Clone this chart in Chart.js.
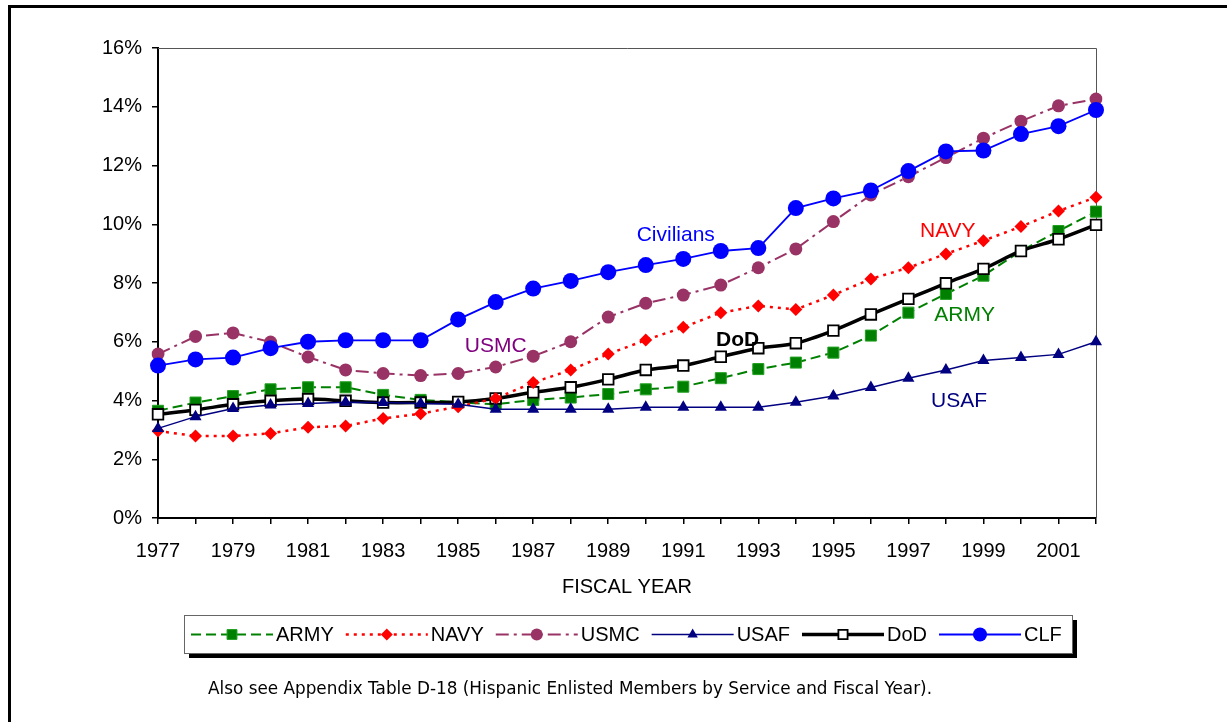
<!DOCTYPE html>
<html>
<head>
<meta charset="utf-8">
<script src="https://cdn.jsdelivr.net/npm/chart.js@4.4.1/dist/chart.umd.min.js"></script>
<style>
  html, body { margin: 0; padding: 0; background: #fff; }
  #wrap { position: relative; width: 1227px; height: 722px; }
</style>
</head>
<body>
<div id="wrap"><canvas id="chart" width="1227" height="722"></canvas></div>
<script>
// Hispanic enlisted members by service, FY1977-2002 (percent)
var years = ['1977', '1978', '1979', '1980', '1981', '1982', '1983', '1984', '1985', '1986', '1987', '1988', '1989',
             '1990', '1991', '1992', '1993', '1994', '1995', '1996', '1997', '1998', '1999', '2000', '2001', '2002'];
var army = [3.65, 3.93, 4.15, 4.38, 4.45, 4.45, 4.19, 4.02, 3.94, 3.87, 4.02, 4.10, 4.22,
            4.38, 4.47, 4.76, 5.07, 5.29, 5.63, 6.21, 6.99, 7.63, 8.25, 9.09, 9.77, 10.43];
var navy = [2.96, 2.79, 2.79, 2.88, 3.09, 3.13, 3.39, 3.55, 3.79, 4.07, 4.61, 5.04, 5.58,
            6.06, 6.49, 6.99, 7.22, 7.10, 7.59, 8.14, 8.52, 8.99, 9.44, 9.92, 10.45, 10.92];
var usmc = [5.58, 6.18, 6.30, 5.99, 5.48, 5.04, 4.92, 4.85, 4.92, 5.14, 5.51, 6.00, 6.84,
            7.31, 7.59, 7.93, 8.52, 9.16, 10.09, 11.00, 11.62, 12.27, 12.93, 13.51, 14.03, 14.26];
var usaf = [3.05, 3.45, 3.73, 3.85, 3.90, 3.94, 3.93, 3.90, 3.87, 3.70, 3.70, 3.70, 3.70,
            3.77, 3.77, 3.77, 3.77, 3.94, 4.15, 4.44, 4.76, 5.04, 5.36, 5.46, 5.57, 6.00];
var dod  = [3.53, 3.68, 3.87, 3.99, 4.05, 3.99, 3.93, 3.93, 3.95, 4.07, 4.28, 4.45, 4.72,
            5.04, 5.19, 5.49, 5.78, 5.95, 6.38, 6.93, 7.46, 7.99, 8.48, 9.09, 9.49, 9.98];
var clf  = [5.19, 5.40, 5.46, 5.78, 6.00, 6.05, 6.05, 6.05, 6.76, 7.35, 7.81, 8.07, 8.37,
            8.61, 8.82, 9.09, 9.19, 10.55, 10.88, 11.15, 11.81, 12.48, 12.51, 13.07, 13.34, 13.89];
var yTicks = [0, 2, 4, 6, 8, 10, 12, 14, 16];

// in-chart series labels, placed in data coordinates
var seriesLabels = ['Civilians', 'NAVY', 'USMC', 'DoD', 'ARMY', 'USAF'];
var seriesLabelYears = [13.8, 21.05, 9.0, 15.45, 21.5, 21.35];
var seriesLabelValues = [9.62, 9.75, 5.86, 6.06, 6.91, 3.96];

var FONT = "'Liberation Sans', Arial, sans-serif";
var labelColors = ['#0000FF', '#FF0000', '#800080', '#000000', '#008000', '#000080'];

function marker(ctx, style, x, y, r, fill, stroke, lw) {
  ctx.save();
  ctx.beginPath();
  if (style === 'rect') {
    var s = r * Math.SQRT1_2;
    ctx.rect(x - s, y - s, 2 * s, 2 * s);
  } else if (style === 'rectRot') {
    ctx.moveTo(x, y - r); ctx.lineTo(x + r, y); ctx.lineTo(x, y + r); ctx.lineTo(x - r, y);
    ctx.closePath();
  } else if (style === 'triangle') {
    ctx.moveTo(x, y - r);
    ctx.lineTo(x + r * 0.866, y + r * 0.5);
    ctx.lineTo(x - r * 0.866, y + r * 0.5);
    ctx.closePath();
  } else {
    ctx.arc(x, y, r, 0, Math.PI * 2);
  }
  ctx.fillStyle = fill;
  ctx.fill();
  if (lw) { ctx.lineWidth = lw; ctx.strokeStyle = stroke; ctx.stroke(); }
  ctx.restore();
}

var framePlugin = {
  id: 'frame',
  beforeDraw: function (chart) {
    var ctx = chart.ctx;
    ctx.save();
    ctx.fillStyle = '#fff';
    ctx.fillRect(0, 0, chart.width, chart.height);
    ctx.fillStyle = '#000';
    ctx.fillRect(8, 5, 3, chart.height - 5);
    ctx.fillRect(8, 5, chart.width - 8, 3);
    ctx.restore();
  },
  beforeDatasetsDraw: function (chart) {
    var a = chart.chartArea, ctx = chart.ctx;
    ctx.save();
    ctx.strokeStyle = '#555';
    ctx.lineWidth = 1;
    ctx.beginPath();
    ctx.moveTo(a.left, a.top + 0.5);
    ctx.lineTo(a.right + 0.5, a.top + 0.5);
    ctx.lineTo(a.right + 0.5, a.bottom);
    ctx.stroke();
    ctx.restore();
  }
};

var labelPlugin = {
  id: 'seriesLabels',
  afterDatasetsDraw: function (chart) {
    var ctx = chart.ctx, xs = chart.scales.x, ys = chart.scales.y;
    ctx.save();
    ctx.textAlign = 'center';
    ctx.textBaseline = 'middle';
    for (var i = 0; i < seriesLabels.length; i++) {
      ctx.font = (seriesLabels[i] === 'DoD' ? 'bold ' : '') + '21px ' + FONT;
      ctx.fillStyle = labelColors[i];
      ctx.fillText(seriesLabels[i], xs.getPixelForValue(seriesLabelYears[i]), ys.getPixelForValue(seriesLabelValues[i]));
    }
    ctx.restore();
  }
};

var legendPlugin = {
  id: 'boxLegend',
  afterDraw: function (chart) {
    var ctx = chart.ctx;
    var box = { left: 184, top: 615, right: 1072, bottom: 653 };
    ctx.save();
    ctx.fillStyle = '#000';
    ctx.fillRect(box.left + 5, box.bottom, box.right - box.left, 5);
    ctx.fillRect(box.right, box.top + 5, 5, box.bottom - box.top);
    ctx.fillStyle = '#fff';
    ctx.fillRect(box.left, box.top, box.right - box.left, box.bottom - box.top);
    ctx.strokeStyle = '#666';
    ctx.lineWidth = 1;
    ctx.strokeRect(box.left + 0.5, box.top + 0.5, box.right - box.left, box.bottom - box.top);

    var cy = (box.top + box.bottom) / 2 + 0.5;
    var x = box.left + 7;
    ctx.font = '20px ' + FONT;
    ctx.textBaseline = 'middle';
    chart.data.datasets.forEach(function (ds) {
      ctx.save();
      ctx.strokeStyle = ds.borderColor;
      ctx.lineWidth = ds.borderWidth;
      ctx.setLineDash(ds.borderDash || []);
      ctx.beginPath();
      ctx.moveTo(x, cy);
      ctx.lineTo(x + 82, cy);
      ctx.stroke();
      ctx.restore();
      marker(ctx, ds.pointStyle, x + 41, cy, ds.legendRadius, ds.pointBackgroundColor, ds.pointBorderColor, ds.pointBorderWidth);
      ctx.fillStyle = '#000';
      ctx.textAlign = 'left';
      ctx.fillText(ds.label, x + 85, cy + 1);
      x += 85 + ctx.measureText(ds.label).width + 12;
    });

    // footnote
    var note = 'Also see Appendix Table D-18 (Hispanic Enlisted Members by Service and Fiscal Year).';
    ctx.font = "17px Tahoma, 'DejaVu Sans', sans-serif";
    var w = ctx.measureText(note).width;
    ctx.translate(208, 690);
    ctx.scale(724 / w, 1);
    ctx.fillStyle = '#000';
    ctx.textAlign = 'left';
    ctx.fillText(note, 0, 0);
    ctx.restore();
  }
};

var ctx = document.getElementById('chart').getContext('2d');
new Chart(ctx, {
  type: 'line',
  data: {
    labels: years,
    datasets: [
      {
        label: 'ARMY', data: army, order: 6,
        borderColor: '#008000', borderWidth: 2, borderDash: [10, 5],
        pointStyle: 'rect', pointRadius: 7.8, pointBackgroundColor: '#008000',
        pointBorderColor: '#22a022', pointBorderWidth: 1, legendRadius: 7
      },
      {
        label: 'NAVY', data: navy, order: 3,
        borderColor: '#FF0000', borderWidth: 2.5, borderDash: [3, 5],
        pointStyle: 'rectRot', pointRadius: 6.5, pointBackgroundColor: '#FF0000',
        pointBorderColor: '#FF0000', pointBorderWidth: 0, legendRadius: 6
      },
      {
        label: 'USMC', data: usmc, order: 4,
        borderColor: '#993366', borderWidth: 2, borderDash: [13, 5, 3, 5],
        pointStyle: 'circle', pointRadius: 6.5, pointBackgroundColor: '#993366',
        pointBorderColor: '#993366', pointBorderWidth: 0, legendRadius: 6
      },
      {
        label: 'USAF', data: usaf, order: 2,
        borderColor: '#000080', borderWidth: 1.5,
        pointStyle: 'triangle', pointRadius: 7, pointBackgroundColor: '#000080',
        pointBorderColor: '#000080', pointBorderWidth: 0, legendRadius: 6
      },
      {
        label: 'DoD', data: dod, order: 5, tension: 0.3, cubicInterpolationMode: 'default',
        borderColor: '#000000', borderWidth: 3.5,
        pointStyle: 'rect', pointRadius: 7.5, pointBackgroundColor: '#ffffff',
        pointBorderColor: '#000000', pointBorderWidth: 1.8, legendRadius: 6.5
      },
      {
        label: 'CLF', data: clf, order: 1,
        borderColor: '#0000FF', borderWidth: 1.8,
        pointStyle: 'circle', pointRadius: 8, pointBackgroundColor: '#0000FF',
        pointBorderColor: '#0000FF', pointBorderWidth: 0, legendRadius: 7
      }
    ]
  },
  options: {
    responsive: false,
    animation: false,
    events: [],
    layout: { padding: { left: 0, right: 131, top: 48, bottom: 0 } },
    elements: { point: { hoverRadius: 0 } },
    scales: {
      x: {
        type: 'category',
        offset: false,
        grid: { display: true, drawOnChartArea: false, drawTicks: true, tickLength: 6, color: '#000', lineWidth: 1.5 },
        border: { display: true, color: '#000', width: 2 },
        ticks: {
          autoSkip: false, maxRotation: 0, minRotation: 0, padding: 15, color: '#000',
          font: { family: FONT, size: 20 },
          callback: function (v, i) { return i % 2 === 0 ? this.getLabelForValue(v) : ''; }
        },
        title: {
          display: true, text: 'FISCAL YEAR', color: '#000',
          font: { family: FONT, size: 20 }, padding: { top: 0, bottom: 123 }
        },
        afterFit: function (scale) { scale.height = 204; }
      },
      y: {
        min: 0, max: 16,
        grid: { display: true, drawOnChartArea: false, drawTicks: true, tickLength: 6, color: '#000', lineWidth: 1.5 },
        border: { display: true, color: '#000', width: 2 },
        afterBuildTicks: function (scale) { scale.ticks = yTicks.map(function (v) { return { value: v }; }); },
        ticks: {
          padding: 10, color: '#000',
          font: { family: FONT, size: 20 },
          callback: function (v) { return v + '%'; }
        },
        afterFit: function (scale) { scale.width = 158; }
      }
    },
    plugins: {
      legend: { display: false },
      tooltip: { enabled: false },
      title: { display: false }
    }
  },
  plugins: [framePlugin, labelPlugin, legendPlugin]
});
</script>
</body>
</html>
